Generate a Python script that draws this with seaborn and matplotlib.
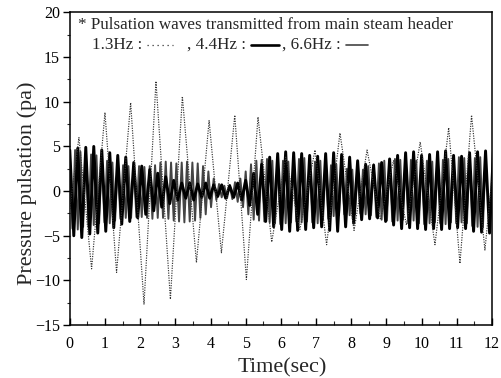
import numpy as np
import pandas as pd
import matplotlib
matplotlib.use("Agg")
import matplotlib.pyplot as plt
import seaborn as sns

# ---- data ----
# 1.3 Hz wave: extrema (time in s, pressure in pa)
t13 = [0.00, 0.26, 0.62, 1.00, 1.33, 1.73, 2.11, 2.45, 2.86, 3.20, 3.60, 3.96,
       4.31, 4.69, 5.02, 5.35, 5.74, 6.14, 6.54, 6.97, 7.30, 7.68, 8.08, 8.45,
       8.83, 9.20, 9.57, 9.96, 10.38, 10.77, 11.09, 11.42, 11.80, 12.00]
p13 = [-2.0, 6.0, -8.7, 8.8, -9.1, 9.9, -12.7, 12.3, -12.1, 10.6, -8.0, 7.9,
       -6.9, 8.5, -9.9, 8.3, -5.7, 3.8, -4.3, 4.6, -6.0, 6.5, -4.4, 4.6,
       -3.2, 3.4, -3.8, 5.5, -6.0, 7.1, -8.1, 8.5, -6.6, 1.5]

# 4.4 Hz wave: successive extrema (one every half period)
f44 = 4.4
p44 = [4.6, -5.0, 4.8, -5.2, 4.9, -4.8, 5.0, -4.7, 4.6,
       -4.5, 4.3, -4.1, 4.0, -3.7, 3.8, -3.4, 3.2, -3.0,
       2.8, -2.6, 2.4, -2.2, 2.0, -1.8, 1.6, -1.4, 1.2,
       -1.0, 0.9, -0.8, 0.9, -1.0, 0.8, -0.7, 0.9, -0.8,
       0.7, -0.6, 0.7, -0.8, 0.6, -0.7, 0.9, -1.0, 1.2,
       -1.6, 2.0, -2.6, 3.0, -3.4, 3.8, -4.0, 4.2, -4.3,
       4.4, -4.5, 4.3, -4.4, 4.2, -4.3, 4.0, -4.1, 3.9,
       -4.0, 4.2, -4.4, 4.3, -4.5, 4.1, -4.0, 3.8, -3.6,
       3.4, -3.2, 3.0, -3.1, 2.9, -3.0, 3.2, -3.4, 3.6,
       -3.8, 4.0, -4.2, 4.3, -4.1, 4.4, -4.2, 4.0, -4.3,
       4.1, -4.2, 4.4, -4.3, 4.5, -4.2, 4.0, -4.1, 3.9,
       -4.2, 4.3, -4.5, 4.4, -4.6, 4.5, -4.7, 4.8, -5.0, 5.4]

# 6.6 Hz wave: successive extrema (one every half period)
f66 = 6.6
p66 = [4.5, -4.2, 4.6, -4.3, 4.4, -4.0, 4.2, -3.9, 4.1, -3.8, 4.0, -3.6, 3.8,
       -3.5, 3.4, -3.6, 3.2, -3.3, 3.0, -3.1, 2.9, -3.0, 2.8, -3.0, 2.7, -2.9,
       2.8, -2.9, 2.7, -3.0, 2.8, -3.1, 2.9, -3.0, 3.2, -3.0, 3.3, -3.1, 3.2,
       -3.3, 3.1, -3.4, 3.2, -3.5, 3.3, -3.4, 3.2, -3.3, 3.1, -3.0, 2.8, -2.6,
       2.2, -1.8, 1.4, -1.0, 0.8, -0.7, 0.6, -0.8, 0.7, -0.9, 1.0, -1.2, 1.4,
       -1.8, 2.2, -2.6, 3.0, -3.2, 3.4, -3.3, 3.5, -3.4, 3.6, -3.5, 3.4, -3.6,
       3.5, -3.7, 3.4, -3.6, 3.3, -3.5, 3.2, -3.4, 3.6, -3.5, 3.7, -3.4, 3.6,
       -3.5, 3.3, -3.6, 3.4, -3.2, 3.0, -3.1, 2.9, -2.8, 3.0, -2.7, 2.9, -2.6,
       2.5, -2.7, 2.4, -2.6, 2.3, -2.5, 2.4, -2.6, 2.8, -2.7, 3.0, -2.9, 3.1,
       -3.2, 3.4, -3.3, 3.5, -3.4, 3.6, -3.3, 3.5, -3.2, 3.4, -3.6, 3.5, -3.3,
       3.4, -3.6, 3.5, -3.7, 3.4, -3.6, 3.3, -3.5, 3.4, -3.6, 3.5, -3.7, 3.6,
       -3.5, 3.7, -3.6, 3.8, -3.5, 3.7, -3.6, 3.8, -3.9, 3.7, -4.0, 3.8, -4.1,
       4.0]

x_ticks = list(range(0, 13))
y_ticks = [-15, -10, -5, 0, 5, 10, 15, 20]
title_line = "* Pulsation waves transmitted from main steam header"
legend_labels = ["1.3Hz :", ", 4.4Hz :", ", 6.6Hz :"]

# ---- build tables ----
t44 = np.arange(len(p44)) / (2 * f44)
t66 = np.arange(len(p66)) / (2 * f66)
df13 = pd.DataFrame({"t": t13, "p": p13})
df44 = pd.DataFrame({"t": t44, "p": p44})
df66 = pd.DataFrame({"t": t66, "p": p66})

sns.set_theme(style="ticks")
plt.rcParams["font.family"] = ["Liberation Serif", "DejaVu Serif"]

W, H = 502, 378
fig, ax = plt.subplots(figsize=(W / 100, H / 100), dpi=100)
fig.subplots_adjust(left=0.139, right=0.980, top=0.967, bottom=0.140)

c66, lw66 = "#444444", 1.4
c44, lw44 = "black", 2.1
c13 = "#333333"
ls13 = (0, (1, 1.1))

sns.lineplot(data=df66, x="t", y="p", ax=ax, color=c66, lw=lw66,
             estimator=None, sort=False)
sns.lineplot(data=df44, x="t", y="p", ax=ax, color=c44, lw=lw44,
             estimator=None, sort=False)
sns.lineplot(data=df13, x="t", y="p", ax=ax, color=c13, lw=0.85,
             linestyle=ls13, estimator=None, sort=False)

ax.set_xlim(0, 12)
ax.set_ylim(-15, 20)
ax.set_xticks(x_ticks)
ax.set_yticks(y_ticks)
ax.set_xticks(np.arange(0.5, 12, 1.0), minor=True)
ax.set_yticks(np.arange(-12.5, 20, 5.0), minor=True)
ax.tick_params(axis="x", which="major", direction="in", length=5, width=1,
               labelsize=11.5, pad=8, colors="black")
ax.tick_params(axis="x", which="minor", direction="in", length=3, width=0.8)
ax.tick_params(axis="y", which="major", direction="out", length=5, width=1,
               labelsize=11.5, pad=2, colors="black")
ax.tick_params(axis="y", which="minor", direction="out", length=2.5, width=0.8)
for s in ax.spines.values():
    s.set_visible(True)
    s.set_color("black")
    s.set_linewidth(1.1)

ax.set_xlabel("Time(sec)", fontsize=16)
ax.set_ylabel("Pressure pulsation (pa)", fontsize=16)
ax.xaxis.set_label_coords(0.504, -0.138)
ax.xaxis.label.set_va("center")
ax.yaxis.set_label_coords(-0.102, 0.453)
ax.yaxis.label.set_va("center")

# annotation (legend written as text with line samples), laid out in pixels
fig.canvas.draw()
rend = fig.canvas.get_renderer()
inv = ax.transAxes.inverted()


def px(xp, yp):
    return inv.transform((xp, H - yp))


fs = 12.3
x0, y0 = px(78, 25)
ax.text(x0, y0, title_line, transform=ax.transAxes, fontsize=fs, va="center", ha="left")

yl = 45
samples = [(c13, 0.9, (0, (1, 3)), 26, 14), (c44, 1.9, "-", 28, 3), (c66, 1.2, "-", 22, 0)]
xcur = 92
for lab, (col, lw, ls, length, gap_after) in zip(legend_labels, samples):
    xa, ya = px(xcur, yl)
    t = ax.text(xa, ya, lab, transform=ax.transAxes, fontsize=fs, va="center", ha="left")
    bb = t.get_window_extent(rend)
    xs = bb.x1 + 5
    a = px(xs, yl)
    b = px(xs + length, yl)
    ax.plot([a[0], b[0]], [a[1], b[1]], transform=ax.transAxes, color=col, lw=lw,
            linestyle=ls, clip_on=False)
    xcur = xs + length + gap_after

fig.savefig("out.png", dpi=100)
